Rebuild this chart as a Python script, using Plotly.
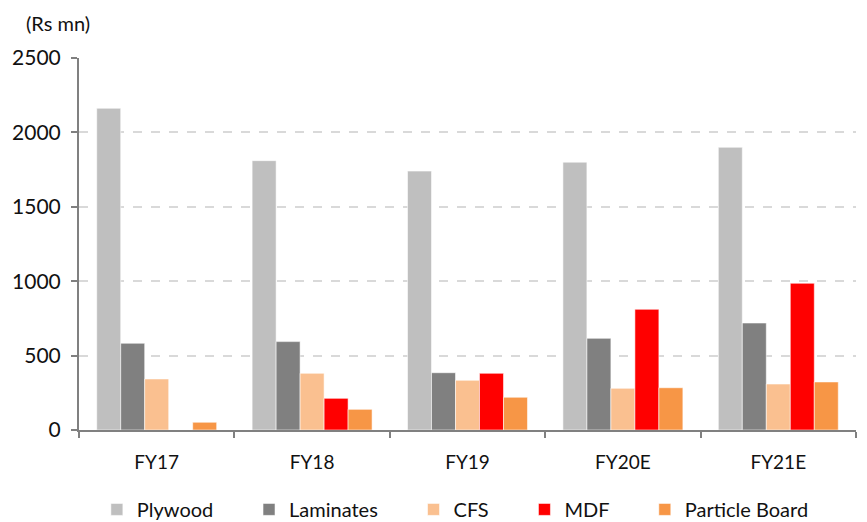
import plotly.graph_objects as go

# Segment revenue by year (Rs mn)
years = ["FY17", "FY18", "FY19", "FY20E", "FY21E"]
plywood = [2162, 1810, 1740, 1800, 1900]
laminates = [583, 594, 385, 616, 719]
cfs = [343, 381, 334, 280, 309]
mdf = [None, 213, 381, 811, 986]
particle_board = [52, 139, 220, 284, 323]

series = [
    ("Plywood", plywood, "#BFBFBF"),
    ("Laminates", laminates, "#808080"),
    ("CFS", cfs, "#FAC090"),
    ("MDF", mdf, "#FF0000"),
    ("Particle Board", particle_board, "#F79646"),
]

FONT = "Lato"
PAD = "\u00a0" * 6  # widen spacing between legend entries

fig = go.Figure()
for i, (name, vals, color) in enumerate(series):
    label = name + (PAD if i < len(series) - 1 else "")
    fig.add_trace(go.Bar(
        x=years, y=vals, name=label,
        marker=dict(color=color, line=dict(color="rgba(255,255,255,0.55)", width=1)),
    ))

fig.update_layout(
    width=867, height=522,
    margin=dict(l=79, r=11, t=58, b=92, autoexpand=False),
    paper_bgcolor="white", plot_bgcolor="white",
    barmode="group", bargap=0.228, bargroupgap=0,
    font=dict(family=FONT, size=18, color="#111111"),
    showlegend=True,
    legend=dict(orientation="h", x=0.023, xanchor="left", y=-0.161, yanchor="top",
                font=dict(family=FONT, size=20, color="#111111"),
                itemclick=False, itemdoubleclick=False),
    xaxis=dict(
        showline=True, linecolor="#808080", linewidth=2,
        ticks="outside", tickson="boundaries", ticklen=6, tickcolor="#808080", tickwidth=2,
        tickfont=dict(family=FONT, size=19, color="#111111"),
        ticklabelstandoff=14,
    ),
    yaxis=dict(
        range=[0, 2500], dtick=500,
        showline=True, linecolor="#808080", linewidth=2,
        ticks="outside", ticklen=6, tickcolor="#808080", tickwidth=2,
        showgrid=True, gridcolor="#D9D9D9", griddash="dash", gridwidth=1.5,
        zeroline=False,
        tickfont=dict(family=FONT, size=21, color="#111111"),
        ticklabelstandoff=6,
    ),
    annotations=[dict(
        text="(Rs mn)", xref="paper", yref="paper", x=-0.071, y=1.095,
        xanchor="left", yanchor="middle", showarrow=False,
        font=dict(family=FONT, size=20, color="#111111"),
    )],
)

fig.write_html("out.html")
